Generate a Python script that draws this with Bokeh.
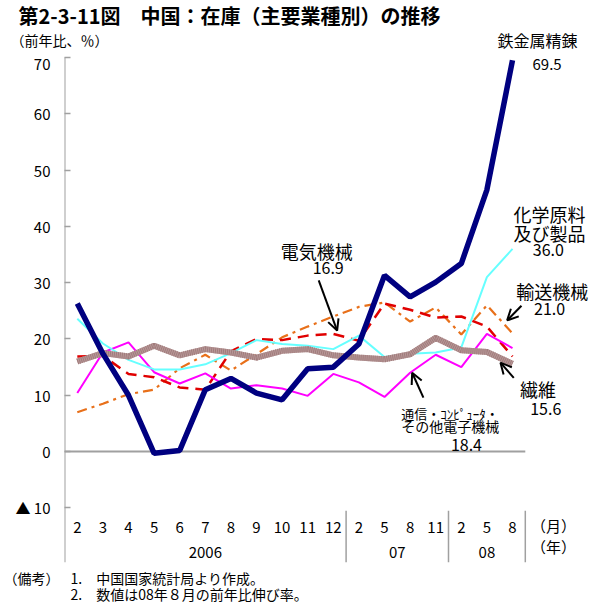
from bokeh.plotting import figure
from bokeh.layouts import column
from bokeh.models import Range1d, FixedTicker, Label, Arrow, OpenHead
from bokeh.core.properties import value
from bokeh.embed import file_html
from bokeh.resources import INLINE

# ---------------- data ----------------
months = ["2", "3", "4", "5", "6", "7", "8", "9", "10", "11", "12",
          "2", "5", "8", "11", "2", "5", "8"]
years = ["2006", "07", "08"]
year_sizes = [11, 4, 3]

iron = [26.3, 17.4, 10.0, -0.3, 0.2, 11.0, 13.0, 10.4, 9.2, 14.7, 15.0,
        19.1, 31.3, 27.5, 30.1, 33.4, 46.5, 69.5]          # 鉄金属精錬
chem = [23.6, 19.2, 16.3, 14.6, 14.6, 15.5, 17.5, 19.8, 19.1, 18.8, 18.2,
        20.6, 16.8, 17.4, 17.6, 18.5, 31.0, 36.0]          # 化学原料及び製品
elec = [16.9, 17.0, 13.8, 13.2, 11.4, 11.0, 17.8, 20.0, 19.8, 20.6, 20.9,
        19.7, 26.3, 25.2, 23.8, 24.0, 22.2, 16.9]          # 電気機械
trans = [7.0, 8.5, 10.2, 11.0, 14.8, 17.2, 14.4, 17.3, 20.3, 22.2, 24.0,
         25.7, 26.5, 23.1, 25.6, 20.8, 26.0, 21.0]         # 輸送機械
comm = [10.4, 17.6, 19.4, 14.1, 12.1, 13.9, 11.2, 11.8, 11.2, 9.9, 13.8,
        12.3, 9.7, 14.0, 17.2, 15.0, 20.9, 18.4]           # 通信・コンピュータ・その他電子機械
textile = [16.0, 17.5, 16.9, 18.8, 17.1, 18.2, 17.6, 16.7, 17.9, 18.2, 17.1,
           16.7, 16.4, 17.3, 20.2, 18.0, 17.7, 15.6]       # 繊維

y_ticks = [-10, 0, 10, 20, 30, 40, 50, 60, 70]
y_tick_overrides = {-10: "▲ 10"}

title_text = "第2-3-11図　中国：在庫（主要業種別）の推移"
unit_text = "（前年比、％）"
notes = ["（備考）", "1.　中国国家統計局より作成。", "2.　数値は08年８月の前年比伸び率。"]

FONT = "Noto Sans CJK JP"
W = 592
TOP_H = 52
Y_MIN = -19.7
Y_MAX = 70 + 5 / 5.63


def blank_fig(h):
    f = figure(width=W, height=h, output_backend="svg", toolbar_location=None,
               x_range=Range1d(0, W), y_range=Range1d(h, 0),
               min_border=0, x_axis_location=None, y_axis_location=None, title=None,
               frame_align=False)
    f.outline_line_color = None
    f.grid.grid_line_color = None
    return f


# ---------------- header ----------------
top = blank_fig(TOP_H)
top.text(x=[18], y=[15], text=[title_text], text_align="left", text_baseline="middle",
         text_font=value(FONT), text_font_size="20px", text_font_style="bold",
         text_color="black")
top.text(x=[10], y=[39], text=[unit_text], text_align="left", text_baseline="middle",
         text_font=value(FONT), text_font_size="14px", text_color="black")
top.text(x=[537], y=[39], text=["鉄金属精錬"], text_align="center", text_baseline="middle",
         text_font=value(FONT), text_font_size="16px", text_color="black")

# ---------------- main chart ----------------
p = figure(width=W, height=514, output_backend="svg", toolbar_location=None,
           x_range=Range1d(0, (W - 64) / 25.6), y_range=Range1d(Y_MIN, Y_MAX),
           min_border_left=64, min_border_right=0, min_border_top=0,
           min_border_bottom=4, x_axis_location=None, title=None, frame_align=False)
p.outline_line_color = None
p.grid.grid_line_color = None

ax = p.yaxis[0]
ax.ticker = FixedTicker(ticks=y_ticks)
ax.major_label_overrides = y_tick_overrides
ax.axis_line_color = None
ax.major_tick_line_color = "#a0a0a0"
ax.major_tick_line_width = 1.5
ax.major_tick_in = 6
ax.major_tick_out = 0
ax.minor_tick_line_color = None
ax.major_label_text_font = FONT
ax.major_label_text_font_size = "15px"
ax.major_label_text_color = "black"
ax.major_label_standoff = 14

n = len(months)
xs = [i + 0.5 for i in range(n)]

# axis line (from the bottom of the category block up to the top tick)
p.segment(x0=[0], x1=[0], y0=[Y_MIN], y1=[max(y_ticks)], line_color="#a0a0a0",
          line_width=2)
# zero line
p.segment(x0=[0], x1=[n], y0=[0], y1=[0], line_color="#a0a0a0", line_width=2)

# group separators / year labels
bounds, centers, start = [], [], 0
for s in year_sizes:
    centers.append(start + s / 2)
    start += s
    bounds.append(start)
p.segment(x0=bounds, x1=bounds, y0=[-10.5] * len(bounds), y1=[Y_MIN] * len(bounds),
          line_color="#a0a0a0", line_width=1.5)

p.text(x=xs, y=[-13.5] * n, text=months, text_align="center", text_baseline="middle",
       text_font=value(FONT), text_font_size="15px", text_color="black")
p.text(x=centers, y=[-17.9] * len(centers), text=years, text_align="center",
       text_baseline="middle", text_font=value(FONT), text_font_size="15px",
       text_color="black")

# ---------------- series ----------------
p.line(xs, trans, line_color="#e8701a", line_width=2.2, line_dash="10 5 3 5")
p.line(xs, elec, line_color="#e00000", line_width=2.5, line_dash="11 7")
p.line(xs, comm, line_color="#ff00ff", line_width=2)
p.line(xs, chem, line_color="#66ffff", line_width=2)
p.line(xs, textile, line_color="#b89898", line_width=6)
p.line(xs, textile, line_color="#a07c7c", line_width=6, line_dash="1 1")
p.line(xs, iron, line_color="#000080", line_width=5.5)


# ---------------- labels ----------------
def lab(x, y, t, size="18px", align="center"):
    p.add_layout(Label(x=x, y=y, text=t, text_align=align, text_baseline="middle",
                       text_font=FONT, text_font_size=size, text_color="black"))


lab(18.85, 68.7, "69.5", size="15px")
lab(18.95, 42.2, "化学原料")
lab(18.95, 38.8, "及び製品")
lab(18.9, 35.8, "36.0", size="16px")
lab(19.05, 28.6, "輸送機械")
lab(18.95, 25.3, "21.0", size="16px")
lab(9.85, 35.7, "電気機械")
lab(10.3, 32.6, "16.9", size="16px")
lab(18.5, 11.1, "繊維")
lab(18.8, 7.6, "15.6", size="16px")
lab(13.15, 6.7, "通信・ｺﾝﾋﾟｭｰﾀ・", size="13px", align="left")
lab(13.15, 4.6, "その他電子機械", size="14px", align="left")
lab(15.7, 1.1, "18.4", size="16px")

lab(19.1, -13.1, "（月）", size="15px")
lab(19.1, -16.9, "（年）", size="15px")


# ---------------- arrows ----------------
def arr(x0, y0, x1, y1):
    p.add_layout(Arrow(end=OpenHead(size=11, line_width=2, line_color="black"),
                       x_start=x0, y_start=y0, x_end=x1, y_end=y1,
                       line_color="black", line_width=2))


arr(9.93, 30.4, 10.65, 21.5)
arr(17.85, 25.9, 17.29, 23.3)
arr(17.55, 13.1, 17.03, 15.8)
arr(14.02, 9.6, 13.58, 14.0)

# ---------------- footnotes ----------------
bot = blank_fig(38)
bot.text(x=[3, 70, 70], y=[11, 11, 27], text=notes, text_align="left",
         text_baseline="middle", text_font=value(FONT), text_font_size="14px",
         text_color="black")

layout = column(top, p, bot, spacing=0)
open("out.html", "w").write(file_html(layout, INLINE))
